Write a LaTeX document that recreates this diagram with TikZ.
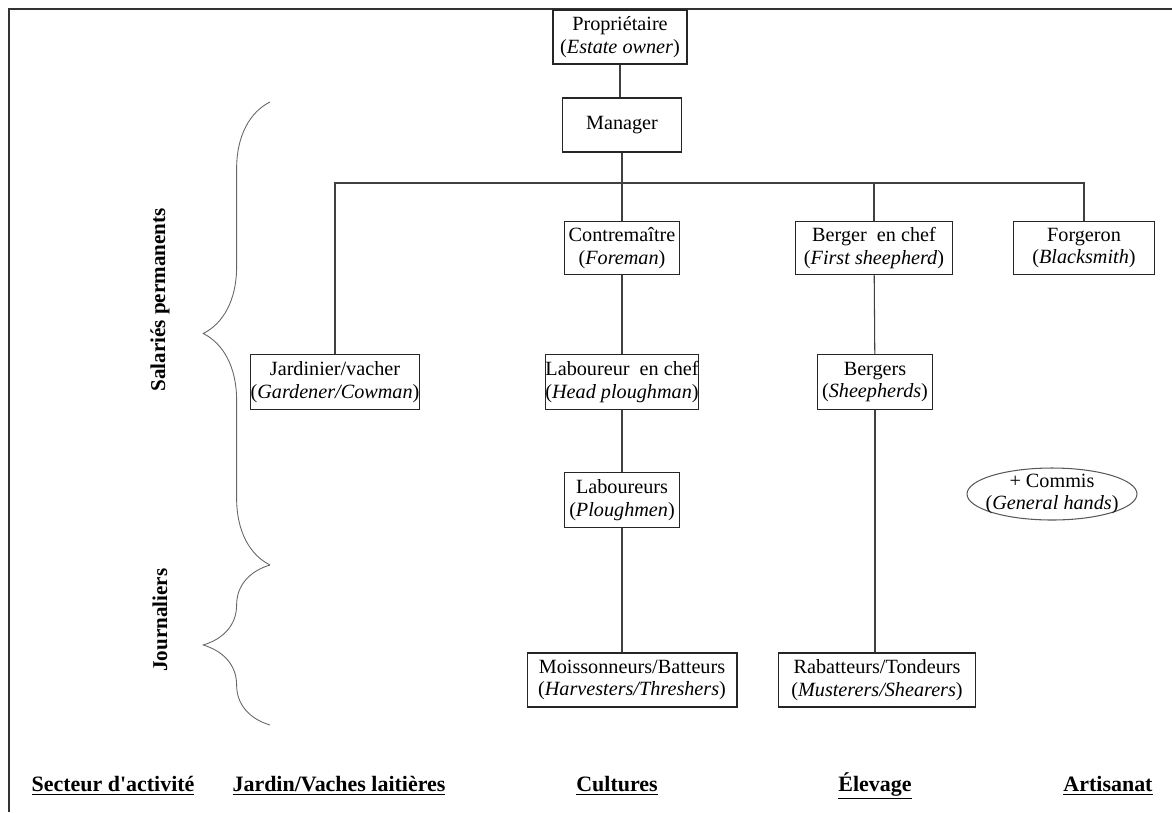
\documentclass[tikz,border=0pt]{standalone}
\usepackage{fontspec}
\setmainfont{Liberation Serif}
\newfontfamily\rawserif{Liberation Serif}[Ligatures=TeXOff]
\usetikzlibrary{positioning,shapes.geometric,decorations.pathreplacing}

\begin{document}
\begin{tikzpicture}[x=0.02cm,y=-0.02cm,
  post/.style={draw,line width=0.6pt,black!85,text=black,align=center,inner sep=0pt,font=\fontsize{11.5}{13}\selectfont},
  link/.style={draw,line width=0.6pt,black!75},
  sector/.style={font=\fontsize{12.5}{14}\selectfont\bfseries},
  group/.style={font=\fontsize{12}{14}\selectfont\bfseries,rotate=90},
  curly/.style={decorate,decoration={brace,amplitude=38pt,raise=0pt},draw=black!60,line width=0.5pt},
]
  \useasboundingbox (0,0) rectangle (1172,812);
  \draw[line width=0.8pt,black!80] (9,812) -- (9,9) -- (1172,9);

  % posts
  \node[post,minimum width=2.68cm,minimum height=1.08cm] (prop) at (620,37) {Propriétaire\\(\textit{Estate owner})};
  \node[post,minimum width=2.38cm,minimum height=1.08cm] (man) at (622,125) {Manager};
  \node[post,minimum width=2.3cm,minimum height=1.06cm] (contre) at (622,248) {Contremaître\\(\textit{Foreman})};
  \node[post,minimum width=3.14cm,minimum height=1.06cm] (bchef) at (874,248) {Berger\ \ en chef\\(\textit{First sheepherd})};
  \node[post,minimum width=2.82cm,minimum height=1.06cm] (forg) at (1084,248) {Forgeron\\(\textit{Blacksmith})};
  \node[post,minimum width=3.2cm,minimum height=1.1cm] (jard) at (335,382) {Jardinier/vacher\\(\textit{Gardener/Cowman})};
  \node[post,minimum width=2.98cm,minimum height=1.1cm] (lchef) at (622,382) {Laboureur\ \ en chef\\(\textit{Head ploughman})};
  \node[post,minimum width=2.3cm,minimum height=1.1cm] (berg) at (875,382) {Bergers\\(\textit{Sheepherds})};
  \node[post,minimum width=2.3cm,minimum height=1.1cm] (lab) at (622,500) {Laboureurs\\(\textit{Ploughmen})};
  \node[post,minimum width=4.2cm,minimum height=1.08cm] (moiss) at (632,680) {Moissonneurs/Batteurs\\(\textit{Harvesters/Threshers})};
  \node[post,minimum width=3.94cm,minimum height=1.08cm] (rabat) at (877,680) {Rabatteurs/Tondeurs\\(\textit{Musterers/Shearers})};
  \node[post,ellipse,draw=black!65,inner sep=-6pt,minimum width=3.4cm,minimum height=1.04cm] (commis) at (1052,494) {+ Commis\\(\textit{General hands})};

  % links
  \coordinate (bus) at (622,183);
  \draw[link] (prop) -- (prop |- man.north);
  \draw[link] (man) -- (bus);
  \draw[link] (jard.north) -- (jard.north |- bus) -- (forg.north |- bus) -- (forg.north);
  \draw[link] (bus) -- (contre);
  \draw[link] (bchef.north |- bus) -- (bchef);
  \draw[link] (contre) -- (lchef);
  \draw[link] (lchef) -- (lab);
  \draw[link] (lab) -- (lab |- moiss.north);
  \draw[link] (bchef) -- (berg);
  \draw[link] (berg) -- (berg |- rabat.north);

  % staff groups
  \coordinate (b1) at (270,565);
  \coordinate (b2) at (270,102);
  \coordinate (b3) at (270,725);
  \draw[curly] (b1) -- (b2);
  \draw[curly] (b3) -- (b1);
  \node[group] (perm) at (160,300) {Salariés permanents};
  \node[group] (journ) at (160,620) {Journaliers};

  % sectors
  \node[sector] (sec) at (113,786) {\underline{Secteur d{\rawserif\bfseries '}activité}};
  \node[sector] (jar) at (339,786) {\underline{Jardin/Vaches laitières}};
  \node[sector] (cul) at (617,786) {\underline{Cultures}};
  \node[sector] (ele) at (875,786) {\underline{Élevage}};
  \node[sector] (art) at (1108,786) {\underline{Artisanat}};
\end{tikzpicture}
\end{document}
